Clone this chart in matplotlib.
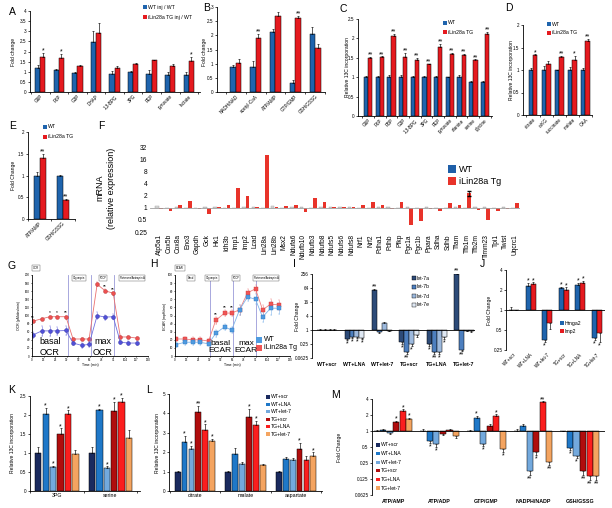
import numpy as np
import matplotlib
matplotlib.use('Agg')
import matplotlib.pyplot as plt
from matplotlib.patches import Rectangle
from matplotlib.ticker import NullLocator

plt.rcParams['font.family'] = ['Liberation Sans', 'DejaVu Sans']

W, H = 612, 508
fig = plt.figure(figsize=(W / 100, H / 100), dpi=100)

BLUE = '#1f64ad'
RED = '#e51a1f'
COND = ['WT+scr', 'WT+LNA', 'WT+let-7', 'TG+scr', 'TG+LNA', 'TG+let-7']
COND_COL = ['#1a2a5e', '#1f78c8', '#73a9dd', '#b00d0d', '#fb1e1e', '#f4a460']
LET7 = ['let-7a', 'let-7b', 'let-7d', 'let-7e']
LET7_COL = ['#2d4b78', '#4d7fbf', '#9db9dd', '#dfe8f3']

TICK = 3.3
LAB = 3.6
LEG = 3.7
STAR = 5

# ---- A: glycolysis fold change
A_cats = ['G6P', 'F6P', 'G3P', 'DHAP', '1,3-BPG', '3PG', 'PEP', 'pyruvate', 'lactate']
A_wt = [1.2, 1.08, 0.93, 2.45, 0.9, 1.0, 0.88, 0.85, 0.85]
A_wt_err = [0.15, 0.08, 0.07, 0.55, 0.15, 0.05, 0.2, 0.15, 0.15]
A_tg = [1.75, 1.67, 1.3, 2.92, 1.2, 1.37, 1.57, 1.3, 1.55]
A_tg_err = [0.2, 0.2, 0.03, 0.5, 0.07, 0.05, 0.03, 0.1, 0.2]
A_sig = ['*', '*', '', '', '', '', '', '', '*']

# ---- B
B_cats = ['NADH/NAD', 'acetyl-CoA', 'ATP/AMP', 'GTP/GMP', 'GSH/GSSG']
B_wt = [0.88, 0.9, 2.13, 0.32, 2.03]
B_wt_err = [0.07, 0.2, 0.1, 0.12, 0.25]
B_tg = [1.03, 1.92, 2.68, 2.6, 1.55]
B_tg_err = [0.15, 0.12, 0.15, 0.1, 0.15]
B_sig = ['', '**', '', '**', '']

# ---- C
C_cats = ['G6P', 'F6P', 'FBP', 'G3P', '1,3-BPG', '3PG', 'PEP', 'pyruvate', 'alanine', 'serine', 'glycine']
C_wt = [1, 1, 1, 1, 1, 1, 1, 1, 1, 0.88, 0.88]
C_wt_err = [0.02, 0.02, 0.06, 0.05, 0.04, 0.04, 0.03, 0.01, 0.06, 0.03, 0.02]
C_tg = [1.5, 1.52, 2.06, 1.53, 1.45, 1.34, 1.77, 1.6, 1.57, 1.44, 2.12]
C_tg_err = [0.02, 0.02, 0.05, 0.1, 0.05, 0.01, 0.08, 0.02, 0.03, 0.02, 0.04]
C_sig = ['**'] * 11

# ---- D
D_cats = ['citrate', 'α-KG', 'succinate', 'malate', 'OAA']
D_wt = [1.0, 1.0, 1.0, 1.0, 1.0]
D_wt_err = [0.04, 0.1, 0.01, 0.06, 0.04]
D_tg = [1.34, 1.14, 1.3, 1.23, 1.65]
D_tg_err = [0.01, 0.07, 0.01, 0.08, 0.04]
D_sig = ['*', '', '**', '*', '**']

# ---- E
E_cats = ['ATP/AMP', 'GSH/GSSG']
E_wt = [1.0, 1.0]
E_wt_err = [0.08, 0.01]
E_tg = [1.4, 0.43]
E_tg_err = [0.1, 0.04]
E_sig = ['**', '**']

# ---- F: mRNA
F_genes = ['Atp5a1', 'Cox5b', 'Cox8a', 'Eno3', 'Gapdh', 'Gck', 'Hk1', 'Idh3b', 'Imp1', 'Imp2',
           'Lcad', 'Lin28a', 'Lin28b', 'Msx2', 'Ndufa6', 'Ndufb10', 'Ndufb3', 'Ndufb8', 'Ndufs5',
           'Ndufs6', 'Ndufs8', 'Nrf1', 'Nrf2', 'Pdha1', 'Pdhb', 'Pfkp', 'Pgc1a', 'Pgc1b', 'Ppara',
           'Sdha', 'Sdhb', 'Tfam', 'Tfb1m', 'Tfb2m', 'Timm23', 'Tpi1', 'Twist', 'Uqcrc1']
F_wt = [1.08, 1.0, 1.05, 1.0, 1.0, 1.05, 1.05, 1.0, 1.0, 1.05,
        1.05, 1.0, 1.1, 1.0, 1.05, 1.05, 1.0, 1.05, 1.05,
        1.05, 1.05, 1.0, 1.0, 1.05, 1.05, 1.0, 1.05, 1.0, 1.05,
        1.0, 1.0, 1.05, 1.0, 1.05, 1.05, 1.0, 1.05, 1.0]
F_tg = [0.93, 0.85, 1.2, 1.5, 0.93, 0.7, 1.05, 1.15, 3.0, 1.9,
        1.02, 20, 1.05, 1.12, 1.2, 0.78, 1.7, 1.35, 1.02,
        1.05, 1.02, 1.2, 1.35, 1.15, 0.95, 1.35, 0.38, 0.48, 0.95,
        0.85, 1.3, 1.15, 2.3, 0.9, 0.5, 0.85, 0.95, 1.3]

# ---- G/H: Seahorse
T_min = [1, 11, 20, 28, 38, 46, 56, 64, 73, 82, 91, 99, 108, 118]
PHASES = [40, 66, 92]
G_tg = [86, 92, 97, 97, 97, 42, 42, 42, 177, 161, 155, 47, 47, 44]
G_tg_err = [3, 3, 3, 3, 3, 3, 3, 3, 5, 4, 4, 3, 3, 3]
G_wt = [52, 62, 62, 62, 63, 32, 26, 29, 100, 96, 97, 34, 32, 32]
G_wt_err = [8, 12, 12, 10, 10, 6, 6, 6, 8, 6, 6, 5, 4, 4]
G_sig = ['**', '', '*', '*', '**', '', '', '', '', '**', '**', '', '', '']
H_tg = [21, 21, 20, 20, 18.5, 44, 53, 53, 57, 78, 83, 57, 64, 63]
H_tg_err = [3, 3, 3, 3, 3, 4, 4, 4, 6, 5, 5, 6, 6, 6]
H_wt = [14, 17, 17, 17, 15, 28, 36, 32, 57, 73, 70, 48, 59, 59]
H_wt_err = [3, 3, 3, 3, 3, 4, 4, 4, 6, 5, 6, 6, 8, 7]
H_sig = ['', '', '', '', '', '**', '**', '**', '', '', '', '', '', '']

# ---- I: let-7 levels
I_vals = [[1.0, 0.4, 50, 0.3, 0.25, 250],
          [1.0, 0.5, 0.8, 0.11, 0.11, 0.14],
          [1.0, 0.5, 2.0, 0.25, 0.11, 0.95],
          [1.0, 0.45, 0.95, 0.6, 0.5, 0.9]]
I_errs = [[0.1, 0.04, 8, 0.05, 0.04, 30],
          [0.08, 0.05, 0.05, 0.02, 0.02, 0.02],
          [0.08, 0.05, 0.2, 0.04, 0.02, 0.05],
          [0.08, 0.04, 0.05, 0.08, 0.08, 0.05]]
I_sigs = [['', '*', '**', '*', '*', '**'],
          ['', '*', '', '**', '**', '**'],
          ['', '*', '', '*', '*', ''],
          ['', '*', '', '', '*', '']]

# ---- J
J_hmga2 = [1.0, 2.3, 0.35, 2.15, 2.4, 0.38]
J_hmga2_err = [0.1, 0.25, 0.02, 0.1, 0.15, 0.03]
J_imp2 = [1.0, 2.45, 0.64, 2.0, 2.55, 0.45]
J_imp2_err = [0.0, 0.15, 0.12, 0.2, 0.2, 0.12]
J_hmga2_sig = ['', '*', '*', '*', '*', '*']
J_imp2_sig = ['', '*', '', '*', '*', '*']

# ---- K
K_cats = ['3PG', 'serine']
K_vals = [[1.0, 1.0], [2.02, 2.12], [0.63, 0.6], [1.5, 2.1], [2.02, 2.33], [0.97, 1.4]]
K_errs = [[0.17, 0.15], [0.17, 0.05], [0.03, 0.05], [0.15, 0.25], [0.1, 0.12], [0.1, 0.2]]
K_sigs = [['', ''], ['*', '*'], ['*', '*'], ['*', '*'], ['*', '*'], ['', '']]

# ---- L
L_cats = ['citrate', 'malate', 'aspartate']
L_vals = [[1, 1, 1], [2.53, 1.93, 1.67], [2.19, 1.38, 1.59], [4.08, 3.83, 2.19], [3.14, 3.4, 1.62], [2.57, 1.33, 1.79]]
L_errs = [[0.05, 0.05, 0.05], [0.3, 0.3, 0.1], [0.15, 0.1, 0.12], [0.3, 0.4, 0.3], [0.3, 0.2, 0.2], [0.1, 0.05, 0.2]]
L_sigs = [['', '', ''], ['*', '', ''], ['*', '', ''], ['**', '*', '*'], ['*', '*', ''], ['*', '', '*']]

# ---- M
M_cats = ['ATP/AMP', 'ATP/ADP', 'GTP/GMP', 'NADPH/NADP', 'GSH/GSSG']
M_vals = [[1, 1, 1, 1, 1],
          [1.03, 0.65, 1.75, 1.24, 0.48],
          [0.93, 0.57, 0.57, 0.18, 0.34],
          [1.45, 0.88, 1.25, 0.4, 0.18],
          [2.4, 1.05, 1.9, 3.5, 0.14],
          [1.65, 0.8, 0.45, 0.26, 0.14]]
M_errs = [[0.03, 0.08, 0.05, 0.1, 0.02],
          [0.05, 0.06, 0.15, 0.1, 0.04],
          [0.05, 0.06, 0.05, 0.03, 0.03],
          [0.1, 0.05, 0.08, 0.04, 0.03],
          [0.15, 0.05, 0.15, 0.1, 0.02],
          [0.1, 0.05, 0.04, 0.03, 0.02]]
M_sigs = [['', '', '', '', ''],
          ['', '*', '*', '', '*'],
          ['', '*', '*', '**', '*'],
          ['*', '', '', '*', '**'],
          ['*', '', '*', '**', '**'],
          ['*', '', '*', '**', '**']]


def px_axes(l, t, r, b):
    return fig.add_axes([l / W, 1 - b / H, (r - l) / W, (b - t) / H])


def ftext(x, y, s, fs=LAB, rot=0, **kw):
    fig.text(x / W, 1 - y / H, s, fontsize=fs, rotation=rot, ha=kw.pop('ha', 'center'),
             va=kw.pop('va', 'center'), **kw)


def key(x, y, color, text, fs=LEG, sz=3.2, ec='none', gap=1.2):
    fig.patches.append(Rectangle(((x - sz / 2) / W, 1 - (y + sz / 2) / H), sz / W, sz / H,
                                 transform=fig.transFigure, facecolor=color, edgecolor=ec, lw=0.3))
    fig.text((x + sz / 2 + gap) / W, 1 - y / H, text, fontsize=fs, va='center', ha='left')


def style(ax, fs=TICK):
    for s in ['top', 'right']:
        ax.spines[s].set_visible(False)
    for s in ['left', 'bottom']:
        ax.spines[s].set_linewidth(0.6)
    ax.tick_params(labelsize=fs, width=0.5, length=1.5, pad=1)


def lin_yticks(ax, top, step):
    t = np.arange(0, top + 1e-9, step)
    ax.set_yticks(t)
    ax.set_yticklabels([f'{v:g}' for v in t])
    ax.set_ylim(0, top)


def log_yticks(ax, ticks, labels):
    ax.set_yscale('log', base=2)
    ax.set_yticks(ticks)
    ax.set_yticklabels(labels)
    ax.yaxis.set_minor_locator(NullLocator())
    ax.set_ylim(ticks[0], ticks[-1])


def cat_x(ax, n, labels, fs=TICK, rot=45, bold=False):
    x = np.arange(n)
    ax.set_xticks(x)
    wt = 'bold' if bold else 'normal'
    if rot:
        ax.set_xticklabels(labels, rotation=rot, ha='right', rotation_mode='anchor', fontsize=fs, fontweight=wt)
    else:
        ax.set_xticklabels(labels, fontsize=fs, fontweight=wt)
    ax.set_xticks(np.arange(n + 1) - 0.5, minor=True)
    ax.tick_params(axis='x', which='major', length=0, pad=1.5)
    ax.tick_params(axis='x', which='minor', length=1.5, width=0.5)


def linbars(ax, xs, vals, errs, w, color):
    ax.bar(xs, vals, w, color=color, edgecolor='black', linewidth=0.35)
    ax.errorbar(xs, vals, yerr=[np.zeros(len(vals)), errs], fmt='none', ecolor='black',
                elinewidth=0.45, capsize=0.9, capthick=0.45)


def logbars(ax, xs, vals, errs, w, color):
    v = np.asarray(vals, float)
    e = np.asarray(errs, float)
    ax.bar(xs, v - 1, w, bottom=1, color=color, edgecolor='black', linewidth=0.35)
    lo = np.where(v < 1, e, 0)
    hi = np.where(v >= 1, e, 0)
    ax.errorbar(xs, v, yerr=[lo, hi], fmt='none', ecolor='black', elinewidth=0.45,
                capsize=0.9, capthick=0.45)


def stars(ax, xs, vals, errs, sigs, log=False, fs=STAR):
    for x, v, e, s in zip(xs, vals, errs, sigs):
        if not s:
            continue
        if log and v < 1:
            ax.annotate(s, (x, v - e), xytext=(0, -0.3), textcoords='offset points',
                        ha='center', va='top', fontsize=fs, annotation_clip=False)
        else:
            ax.annotate(s, (x, v + e), xytext=(0, -1.2), textcoords='offset points',
                        ha='center', va='bottom', fontsize=fs, annotation_clip=False)


def pair_panel(box, xlim, cats, wt, wte, tg, tge, sig, top, step, w):
    ax = px_axes(*box)
    style(ax)
    x = np.arange(len(cats))
    linbars(ax, x - w / 2, wt, wte, w, BLUE)
    linbars(ax, x + w / 2, tg, tge, w, RED)
    stars(ax, x + w / 2, tg, tge, sig)
    ax.set_xlim(*xlim)
    lin_yticks(ax, top, step)
    cat_x(ax, len(cats), cats)
    return ax


# ---------------- row 1
pair_panel((30, 11, 200, 92), (-0.55, 8.6), A_cats, A_wt, A_wt_err, A_tg, A_tg_err, A_sig, 4, 0.5, 0.28)
ftext(13, 52, 'Fold change', LAB, 90)
key(145, 7, BLUE, 'WT inj / WT')
key(145, 17, RED, 'iLin28a TG inj / WT')

pair_panel((217, 7, 325, 92), (-0.95, 4.45), B_cats, B_wt, B_wt_err, B_tg, B_tg_err, B_sig, 3, 0.5, 0.28)
ftext(205, 52, 'Fold change', LAB, 90)

pair_panel((358, 19, 492, 116), (-0.86, 10.6), C_cats, C_wt, C_wt_err, C_tg, C_tg_err, C_sig, 2.5, 0.5, 0.36)
ftext(347, 67, 'Relative 13C incorporation', LAB, 90)
key(445, 23, BLUE, 'WT')
key(445, 32, RED, 'iLin28a TG')

pair_panel((523, 25, 592, 115), (-0.76, 4.47), D_cats, D_wt, D_wt_err, D_tg, D_tg_err, D_sig, 2, 0.5, 0.34)
ftext(512, 70, 'Relative 13C incorporation', LAB, 90)
key(549, 24, BLUE, 'WT')
key(549, 33, RED, 'iLin28a TG')

# ---------------- row 2
pair_panel((28, 132, 75, 219), (-0.36, 1.52), E_cats, E_wt, E_wt_err, E_tg, E_tg_err, E_sig, 2, 0.5, 0.26)
ftext(13, 175, 'Fold Change', LAB, 90)
key(45, 127, BLUE, 'WT')
key(45, 137, RED, 'iLin28a TG')

axF = px_axes(150, 147, 520, 232)
style(axF, 4.8)
axF.spines['left'].set_visible(False)
axF.spines['bottom'].set_visible(False)
xf = np.arange(len(F_genes))
axF.bar(xf - 0.2, np.array(F_wt) - 1, 0.38, bottom=1, color='#dcdcdc', edgecolor='#9a9a9a', linewidth=0.3)
axF.bar(xf + 0.2, np.array(F_tg) - 1, 0.38, bottom=1, color='#e8332a', edgecolor='none')
axF.errorbar(xf[32] + 0.2, F_tg[32], yerr=0.3, fmt='none', ecolor='black', elinewidth=0.5, capsize=1.2)
axF.axhline(1, color='#a0a0a0', lw=0.6)
log_yticks(axF, [0.25, 0.5, 1, 2, 4, 8, 16, 32], ['0.25', '0.5', '1', '2', '4', '8', '16', '32'])
axF.tick_params(axis='y', length=0, pad=2)
axF.set_xticks(xf)
axF.set_xticklabels(F_genes, rotation=90, fontsize=4.8)
axF.tick_params(axis='x', length=0, pad=1.5)
axF.set_xlim(-0.94, len(F_genes) - 0.5)
ftext(100, 188, 'mRNA', 6.5, 90)
ftext(112, 188, '(relative expression)', 6.5, 90)
key(452, 169, '#1f5fa8', 'WT', fs=6.5, sz=8, gap=3)
key(452, 181, '#e8332a', 'iLin28a Tg', fs=6.5, sz=8, gap=3)


# ---------------- row 3: seahorse
def seahorse(box, tg, tge, wt, wte, sig, top, step, marker, ctg, cwt):
    ax = px_axes(*box)
    style(ax, 2.2)
    ax.tick_params(length=1, pad=0.5)
    for t in PHASES:
        ax.axvline(t, color='#9a9ad8', lw=0.6)
    ax.errorbar(T_min, tg, yerr=tge, color=ctg[0], lw=0.6, marker=marker, ms=2.8, mfc=ctg[1],
                mec=ctg[2], mew=0.3, elinewidth=0.4, capsize=0.8, ecolor=ctg[0])
    ax.errorbar(T_min, wt, yerr=wte, color=cwt[0], lw=0.6, marker=marker, ms=2.8, mfc=cwt[1],
                mec=cwt[2], mew=0.3, elinewidth=0.4, capsize=0.8, ecolor=cwt[0])
    for t, v, e, s in zip(T_min, tg, tge, sig):
        if s:
            ax.annotate(s, (t, v + e), xytext=(0, 0), textcoords='offset points', ha='center',
                        va='bottom', fontsize=3.5, annotation_clip=False)
    ax.set_xlim(0, 130)
    ax.set_xticks(np.arange(0, 131, 13))
    lin_yticks(ax, top, step)
    return ax


seahorse((32, 275, 148, 356), G_tg, G_tg_err, G_wt, G_wt_err, G_sig, 200, 20, 'o',
         ('#ea7070', '#ee5050', '#b03030'), ('#7070e0', '#5050d8', '#3030a0'))
ftext(19, 316, 'OCR (pMoles/min)', 2.5, 90)
ftext(90, 365, 'Time (min)', 2.5)
ftext(50, 347, 'basal\nOCR', 6.5, linespacing=1.15)
ftext(103, 347, 'max\nOCR', 6.5, linespacing=1.15)

seahorse((175, 275, 290, 356), H_tg, H_tg_err, H_wt, H_wt_err, H_sig, 100, 10, 's',
         ('#f08080', '#f05555', '#d03a3a'), ('#80b4ea', '#4f9be0', '#2f78c0'))
ftext(165, 316, 'ECAR (mpH/min)', 2.5, 90)
ftext(232, 365, 'Time (min)', 2.5)
ftext(220, 347, 'basal\nECAR', 6, linespacing=1.15)
ftext(246, 347, 'max\nECAR', 6, linespacing=1.15)
key(259, 339.5, '#4f9be0', 'WT', fs=5, sz=6, gap=2)
key(259, 347.5, '#f05555', 'iLin28a Tg', fs=5, sz=6, gap=2)

box_kw = dict(boxstyle='square,pad=0.3', fc='white', ec='#555555', lw=0.3)
ftext(36, 268, 'OCR', 2, bbox=box_kw)
ftext(180, 268, 'ECAR', 2, bbox=box_kw)
for x, s in [(79, 'Oligomycin'), (103, 'FCCP'), (132, 'Rotenone/Antimycin A'),
             (191, 'Basal'), (212, 'Oligomycin'), (236, 'FCCP'), (266, 'Rotenone/Antimycin A')]:
    ftext(x, 278, s, 1.8, bbox=box_kw)

# ---------------- I
axI = px_axes(312, 274, 475, 358)
style(axI)
axI.spines['bottom'].set_visible(False)
axI.axhline(1, color='black', lw=0.6)
offs = [-0.27, -0.09, 0.09, 0.27]
for k in range(4):
    xs = np.arange(6) + offs[k]
    logbars(axI, xs, I_vals[k], I_errs[k], 0.18, LET7_COL[k])
    stars(axI, xs, I_vals[k], I_errs[k], I_sigs[k], log=True)
log_yticks(axI, [0.0625, 0.25, 1, 4, 16, 64, 256], ['0.0625', '0.25', '1', '4', '16', '64', '256'])
axI.set_xlim(-0.55, 5.4)
axI.set_xticks(np.arange(6))
axI.set_xticklabels(COND, fontsize=3.8, fontweight='bold')
axI.tick_params(axis='x', length=0, pad=3)
ftext(297, 316, 'Fold Change', LAB, 90)
for k in range(4):
    key(414, 278 + 9 * k, LET7_COL[k], LET7[k], ec='black')

# ---------------- J
axJ = px_axes(506, 270, 605, 350)
style(axJ)
axJ.spines['bottom'].set_visible(False)
axJ.axhline(1, color='black', lw=0.6)
xj = np.arange(6)
logbars(axJ, xj - 0.15, J_hmga2, J_hmga2_err, 0.3, BLUE)
logbars(axJ, xj + 0.15, J_imp2, J_imp2_err, 0.3, RED)
stars(axJ, xj - 0.15, J_hmga2, J_hmga2_err, J_hmga2_sig, log=True)
stars(axJ, xj + 0.15, J_imp2, J_imp2_err, J_imp2_sig, log=True)
log_yticks(axJ, [0.25, 0.5, 1, 2, 4], ['0.25', '0.5', '1', '2', '4'])
axJ.set_xlim(-0.48, 5.48)
axJ.set_xticks(xj)
axJ.set_xticklabels(COND, rotation=45, ha='right', rotation_mode='anchor', fontsize=TICK)
axJ.tick_params(axis='x', length=0, pad=1.5)
ftext(489, 310, 'Fold Change', LAB, 90)
key(562, 323, BLUE, 'Hmga2')
key(562, 331, RED, 'Imp2')


# ---------------- K / L
def six_panel(box, xlim, cats, vals, errs, sigs, top, step, step_x, w):
    ax = px_axes(*box)
    style(ax)
    base = np.arange(len(cats))
    for k in range(6):
        xs = base + (k - 2.5) * step_x
        linbars(ax, xs, vals[k], errs[k], w, COND_COL[k])
        stars(ax, xs, vals[k], errs[k], sigs[k])
    ax.set_xlim(*xlim)
    lin_yticks(ax, top, step)
    cat_x(ax, len(cats), cats, fs=3.8, rot=0)
    return ax


six_panel((30, 396, 140, 491), (-0.5, 1.55), K_cats, K_vals, K_errs, K_sigs, 2.5, 0.5, 0.138, 0.118)
ftext(13, 443, 'Relative 13C incorporation', LAB, 90)

six_panel((169, 394, 322, 491), (-0.51, 2.51), L_cats, L_vals, L_errs, L_sigs, 5, 1, 0.135, 0.115)
ftext(157, 443, 'Relative 13C incorporation', LAB, 90)
for k in range(6):
    key(268, 397 + 7.4 * k, COND_COL[k], COND[k])

# ---------------- M
axM = px_axes(372, 399, 605, 495)
style(axM)
axM.spines['bottom'].set_visible(False)
axM.axhline(1, color='black', lw=0.6)
for k in range(6):
    xs = np.arange(5) + (k - 2.5) * 0.14
    logbars(axM, xs, M_vals[k], M_errs[k], 0.13, COND_COL[k])
    stars(axM, xs, M_vals[k], M_errs[k], M_sigs[k], log=True)
log_yticks(axM, [0.0625, 0.125, 0.25, 0.5, 1, 2, 4], ['0.0625', '0.125', '0.25', '0.5', '1', '2', '4'])
axM.set_xlim(-0.45, 4.54)
axM.set_xticks(np.arange(5))
axM.set_xticklabels(M_cats, fontsize=3.8, fontweight='bold')
axM.tick_params(axis='x', length=0, pad=3)
ftext(340, 447, 'Fold Change', LAB, 90)
for k in range(6):
    key(378, 445 + 8.6 * k, COND_COL[k], COND[k])

# ---------------- panel letters
for s, x, y in [('A', 9, 12), ('B', 203, 8), ('C', 340, 9), ('D', 505, 8), ('E', 9, 126),
                ('F', 98, 126), ('G', 8, 266), ('H', 150, 264), ('I', 293, 264), ('J', 480, 264),
                ('K', 8, 390), ('L', 146, 390), ('M', 331, 395)]:
    ftext(x, y, s, 7.5, ha='left')

fig.savefig('out.png', dpi=100)
